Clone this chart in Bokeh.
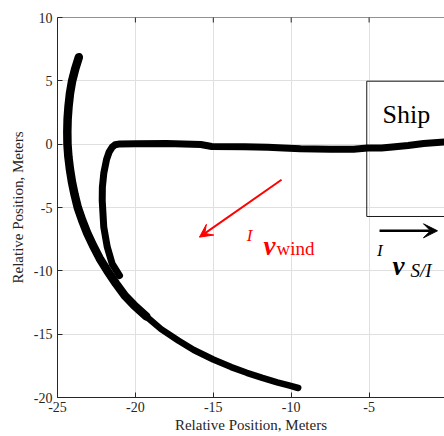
import math
from bokeh.plotting import figure
from bokeh.models import Range1d, FixedTicker, Arrow, VeeHead, Label, Span
from bokeh.embed import file_html
from bokeh.resources import INLINE

# ---- data -------------------------------------------------------------
x_ticks = [-25, -20, -15, -10, -5, 0]
y_ticks = [-20, -15, -10, -5, 0, 5, 10]
x_tick_labels = {t: str(t) for t in x_ticks}
y_tick_labels = {t: str(t) for t in y_ticks}

# outer arc of the trajectory (relative position, metres)
outer_x = [-23.63, -23.85, -24.06, -24.2, -24.29, -24.35, -24.37, -24.36,
           -24.3, -24.2, -24.07, -23.9, -23.7, -23.42, -23.1, -22.72, -22.3,
           -21.8, -21.25, -20.65, -20.1, -19.3, -18.35, -17.25, -16.25, -15.0,
           -13.85, -12.85, -11.85, -10.9, -10.15, -9.55]
outer_y = [6.87, 6.0, 5.0, 4.0, 3.0, 2.0, 1.0, 0.0,
           -1.0, -2.0, -3.0, -4.0, -5.0, -6.0, -7.0, -8.0, -9.0,
           -10.0, -11.0, -12.0, -12.7, -13.6, -14.6, -15.5, -16.25, -17.0,
           -17.6, -18.05, -18.45, -18.8, -19.05, -19.25]

# inner path: from the ship leftwards, then down to the hook
inner_x = [0.0, -1.5, -2.5, -3.5, -4.2, -5.1, -6.0, -7.5, -9.4, -10.5, -11.5,
           -13.0, -15.1, -15.8, -18.0, -20.0, -21.0, -21.3, -21.5, -21.68, -21.85,
           -22.03, -22.12, -22.13, -22.03, -21.81, -21.49, -21.02]
inner_y = [0.18, 0.05, -0.1, -0.22, -0.3, -0.3, -0.4, -0.4, -0.37, -0.3, -0.24,
           -0.2, -0.18, -0.03, 0.05, 0.03, 0.02, -0.05, -0.25, -0.6, -1.2,
           -2.3, -3.4, -4.45, -6.55, -8.1, -9.45, -10.37]

wind_x = [-10.62, -15.89]
wind_y = [-2.81, -7.34]
ship_vel_x = [-4.33, -0.61]
ship_vel_y = [-6.84, -6.84]
ship_box = dict(left=-5.15, right=5.0, top=4.97, bottom=-5.71)

FONT = "Liberation Serif"
AX = "#262626"

p = figure(width=444, height=436, output_backend="svg", toolbar_location=None,
           x_range=Range1d(-25, -0.16), y_range=Range1d(-20, 10),
           min_border_left=57, min_border_right=0, min_border_top=17,
           min_border_bottom=39, background_fill_color="white",
           border_fill_color="white")
p.outline_line_color = None

# axes
for ax in (p.xaxis[0], p.yaxis[0]):
    ax.axis_line_color = AX
    ax.major_tick_line_color = AX
    ax.major_tick_in = 5
    ax.major_tick_out = 0
    ax.minor_tick_line_color = None
    ax.major_label_text_font = FONT
    ax.major_label_text_font_size = "14px"
    ax.major_label_text_color = AX
    ax.axis_label_text_font = FONT
    ax.axis_label_text_font_size = "15px"
    ax.axis_label_text_font_style = "normal"
    ax.axis_label_text_color = AX
p.xaxis.ticker = FixedTicker(ticks=x_ticks)
p.yaxis.ticker = FixedTicker(ticks=y_ticks)
p.xaxis.major_label_overrides = x_tick_labels
p.yaxis.major_label_overrides = y_tick_labels
p.xaxis.axis_label = "Relative Position, Meters"
p.yaxis.axis_label = "Relative Position, Meters"
p.xaxis.major_label_standoff = 4
p.xaxis.axis_label_standoff = 2
p.yaxis.major_label_standoff = 5
p.yaxis.axis_label_standoff = 5

p.xgrid.ticker = FixedTicker(ticks=x_ticks)
p.ygrid.ticker = FixedTicker(ticks=y_ticks)
p.grid.grid_line_color = "#e0e0e0"
p.grid.grid_line_width = 1

# top border of the box with inward ticks (clipped to the frame)
p.add_layout(Span(location=10, dimension="width", line_color=AX, line_width=1))
p.scatter(x_ticks[1:], [10] * (len(x_ticks) - 1), marker="dash", angle=math.pi / 2,
          size=10, line_color=AX, line_width=1)

# ship box
p.quad(fill_color=None, line_color="#1a1a1a", line_width=1, **ship_box)

# trajectory
split = 21
p.line(outer_x[:split + 1], outer_y[:split + 1], line_color="black", line_width=8.5,
       line_cap="round", line_join="round")
p.line(outer_x[split:], outer_y[split:], line_color="black", line_width=6.5,
       line_cap="round", line_join="round")
p.line(inner_x, inner_y, line_color="black", line_width=7,
       line_cap="round", line_join="round")

# wind arrow
p.add_layout(Arrow(x_start=wind_x[0], y_start=wind_y[0], x_end=wind_x[1], y_end=wind_y[1],
                   line_color="#ff0000", line_width=2,
                   end=VeeHead(size=13, fill_color="#ff0000", line_color="#ff0000")))
# ship velocity arrow
p.add_layout(Arrow(x_start=ship_vel_x[0], y_start=ship_vel_y[0], x_end=ship_vel_x[1],
                   y_end=ship_vel_y[1], line_color="black", line_width=2.5,
                   end=VeeHead(size=14, fill_color="black", line_color="black")))

def lab(x, y, text, size, style, color):
    p.add_layout(Label(x=x, y=y, text=text, text_font=FONT, text_font_size=size,
                       text_font_style=style, text_color=color,
                       text_align="left", text_baseline="alphabetic"))

# wind label
lab(-12.85, -7.21, "I", "17px", "italic", "#ff0000")
lab(-11.78, -8.0, "v", "27px", "bold italic", "#ff0000")
lab(-10.94, -8.24, "wind", "19px", "normal", "#ff0000")

# ship velocity label
lab(-4.5, -8.39, "I", "17px", "italic", "black")
lab(-3.50, -9.58, "v", "27px", "bold italic", "black")
lab(-2.34, -9.97, "S/I", "19px", "italic", "black")

# ship text
lab(-4.14, 2.34, "Ship", "26px", "normal", "black")

open("out.html", "w").write(file_html(p, INLINE))
